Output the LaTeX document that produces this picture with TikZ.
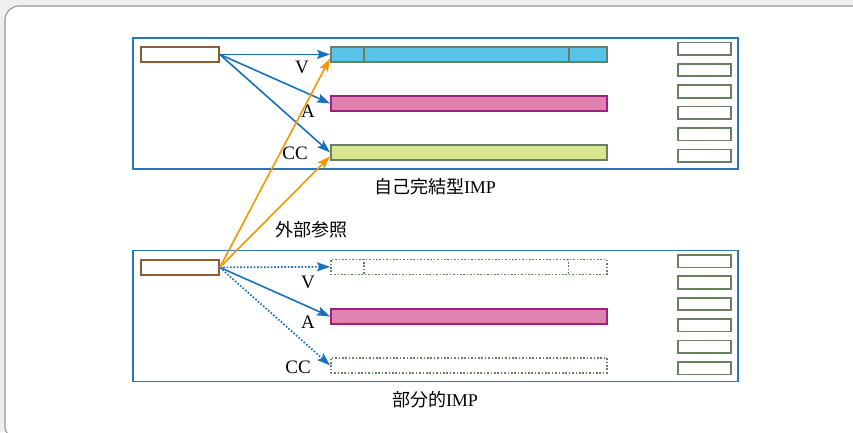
\documentclass[tikz,border=0pt]{standalone}
\usepackage{fontspec}
\setmainfont{Liberation Serif}
\newfontfamily\jp{Noto Sans CJK JP}
\usetikzlibrary{arrows.meta}
\definecolor{bgc}{RGB}{239,239,239}
\definecolor{panelc}{RGB}{150,150,150}
\definecolor{framec}{RGB}{35,120,192}
\definecolor{arrowc}{RGB}{22,112,186}
\definecolor{orangec}{RGB}{243,152,0}
\definecolor{cyanfill}{RGB}{90,196,232}
\definecolor{pinkfill}{RGB}{222,130,176}
\definecolor{pinkline}{RGB}{160,32,130}
\definecolor{limefill}{RGB}{217,229,143}
\definecolor{greenline}{RGB}{105,128,95}
\definecolor{brownc}{RGB}{140,92,50}
\tikzset{
  frame/.style={draw=framec, line width=1.8pt, minimum width=605, minimum height=131, inner sep=0, anchor=north west},
  srcbox/.style={draw=brownc, line width=1.8pt, fill=white, minimum width=78, minimum height=15, inner sep=0, anchor=north west},
  bar/.style={line width=1.8pt, minimum width=276, minimum height=15, inner sep=0, anchor=north west},
  vbar/.style={bar, draw=greenline, fill=cyanfill},
  abar/.style={bar, draw=pinkline, fill=pinkfill},
  cbar/.style={bar, draw=greenline, fill=limefill},
  dotpat/.style={dash pattern=on 1.6pt off 1.8pt},
  dbar/.style={bar, draw=greenline, dotpat, line width=1.6pt},
  sidebox/.style={draw=greenline, line width=1.7pt, minimum width=53, minimum height=12.5, inner sep=0, anchor=north west},
  arr/.style={draw=arrowc, line width=1.6pt, -{Stealth[length=13pt,width=9pt,inset=2.5pt]}},
  darr/.style={arr, dotpat, line width=1.7pt},
  oarr/.style={draw=orangec, line width=1.6pt, -{Stealth[length=13pt,width=9pt,inset=2.5pt]}},
  lab/.style={font=\fontsize{19}{22}\selectfont, inner sep=0},
  captext/.style={font=\fontsize{18}{22}\selectfont, inner sep=0},
}
\begin{document}
\begin{tikzpicture}[x=1pt,y=-1pt]
\useasboundingbox (0,0) rectangle (853,432);
\clip (0,0) rectangle (853,432);
\fill[bgc] (0,0) rectangle (853,432);
\draw[panelc, fill=white, line width=1.1pt, rounded corners=14] (5,6) rectangle (880,440);

% top block
\node[frame] (ftop) at (132,37) {};
\node[srcbox] (s1) at (140,46) {};
\node[vbar] (v1) at (330,46) {};
\draw[greenline, line width=1.5pt] ([xshift=34pt]v1.north west) -- ([xshift=34pt]v1.south west);
\draw[greenline, line width=1.5pt] ([xshift=-39pt]v1.north east) -- ([xshift=-39pt]v1.south east);
\node[abar] (a1) at (330,95) {};
\node[cbar] (c1) at (330,144) {};
\foreach \i in {0,...,5} {
  \node[sidebox] (r1\i) at (677,{41.5+21.4*\i}) {};
}
\node[lab] (lv1) at (302,67) {V};
\node[lab] (la1) at (308,111) {A};
\node[lab] (lc1) at (295,153) {CC};
\node[captext] (t1) at (435,187) {{\jp 自己完結型}IMP};

% bottom block
\node[frame] (fbot) at (132,249.5) {};
\node[srcbox] (s2) at (140,259) {};
\node[dbar] (v2) at (330,258.5) {};
\draw[greenline, dotpat, line width=1.6pt] ([xshift=34pt]v2.north west) -- ([xshift=34pt]v2.south west);
\draw[greenline, dotpat, line width=1.6pt] ([xshift=-39pt]v2.north east) -- ([xshift=-39pt]v2.south east);
\node[abar] (a2) at (330,308) {};
\node[dbar] (c2) at (330,357) {};
\foreach \i in {0,...,5} {
  \node[sidebox] (r2\i) at (677,{254+21.4*\i}) {};
}
\node[lab] (lv2) at (308,282) {V};
\node[lab] (la2) at (308,322) {A};
\node[lab] (lc2) at (298,367) {CC};
\node[captext] (t2) at (435,400) {{\jp 部分的}IMP};
\node[captext] (t3) at (311,230) {\jp 外部参照};

% arrows top
\draw[arr] (s1.east) -- (v1.west);
\draw[arr] (s1.east) -- (a1.west);
\draw[arr] (s1.east) -- (c1.west);
% arrows bottom
\draw[darr] (s2.east) -- (v2.west);
\draw[arr] (s2.east) -- (a2.west);
\draw[darr] (s2.east) -- (c2.west);
% external references
\draw[oarr] (s2.east) -- ([yshift=-4pt]v1.west);
\draw[oarr] (s2.east) -- ([yshift=-4pt]c1.west);
\end{tikzpicture}
\end{document}
